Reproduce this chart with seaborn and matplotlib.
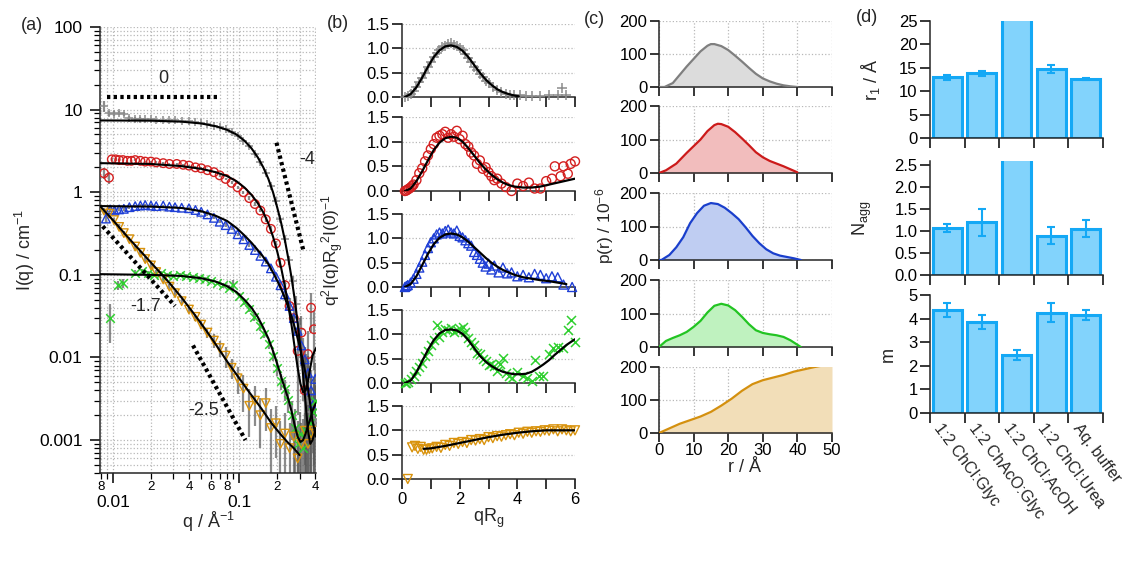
import numpy as np
import pandas as pd
import matplotlib
matplotlib.use("Agg")
import matplotlib.pyplot as plt
import seaborn as sns
from matplotlib.ticker import FixedLocator, FixedFormatter, NullFormatter, LogLocator

# ------------------------------------------------------------------ data (a)
q_grey = [0.0085, 0.0093, 0.0102, 0.0112, 0.0122, 0.0135, 0.015, 0.0165, 0.018, 0.02, 0.022, 0.025, 0.028, 0.031, 0.035,
          0.04, 0.045, 0.05, 0.056, 0.063, 0.07, 0.078, 0.087, 0.097, 0.108, 0.12, 0.133, 0.147, 0.162, 0.178, 0.195,
          0.212, 0.23, 0.248, 0.265, 0.282, 0.3, 0.318, 0.335, 0.352, 0.37, 0.388, 0.402]
I_grey = [11.0, 9.0, 8.9, 9.0, 8.9, 7.9, 7.8, 7.8, 7.6, 7.6, 7.5, 7.5, 7.4, 7.4, 7.3, 7.2, 7.0, 6.9, 6.7, 6.4, 6.1, 5.8,
          5.3, 4.8, 4.2, 3.6, 2.9, 2.3, 1.7, 1.2, 0.78, 0.47, 0.27, 0.15, 0.085, 0.045, 0.022, 0.01, 0.005, 0.003,
          0.0022, 0.0018, 0.0016]
e_grey = [1.6, 0.7, 0.6, 0.5, 0.5, 0.4, 0.3, 0.3, 0.3, 0.25, 0.25, 0.2, 0.2, 0.2, 0.2, 0.2, 0.2, 0.2, 0.2, 0.2, 0.2, 0.2,
          0.2, 0.2, 0.15, 0.15, 0.12, 0.1, 0.08, 0.07, 0.05, 0.035, 0.025, 0.018, 0.012, 0.01, 0.008, 0.007, 0.006,
          0.005, 0.004, 0.004, 0.003]
q_red = [0.0085, 0.0093, 0.0098, 0.0105, 0.0112, 0.012, 0.013, 0.014, 0.015, 0.0165, 0.018, 0.02, 0.022, 0.025, 0.028,
         0.032, 0.036, 0.04, 0.045, 0.05, 0.056, 0.063, 0.07, 0.078, 0.087, 0.097, 0.108, 0.12, 0.133, 0.147, 0.162,
         0.178, 0.195, 0.212, 0.23, 0.25, 0.27, 0.29, 0.31, 0.33, 0.35, 0.37, 0.39]
I_red = [1.7, 1.5, 2.5, 2.5, 2.45, 2.45, 2.4, 2.4, 2.45, 2.4, 2.35, 2.35, 2.3, 2.25, 2.2, 2.2, 2.15, 2.1, 2.0, 1.95, 1.85,
         1.75, 1.6, 1.45, 1.3, 1.15, 1.0, 0.85, 0.72, 0.6, 0.47, 0.36, 0.24, 0.14, 0.075, 0.042, 0.03, 0.012, 0.02,
         0.004, 0.011, 0.04, 0.022]
e_red = [0.25, 0.25, 0.1, 0.1, 0.08, 0.08, 0.08, 0.08, 0.07, 0.07, 0.07, 0.06, 0.06, 0.06, 0.06, 0.05, 0.05, 0.05, 0.05,
         0.05, 0.05, 0.05, 0.05, 0.05, 0.05, 0.04, 0.04, 0.04, 0.035, 0.03, 0.03, 0.025, 0.02, 0.015, 0.012, 0.01,
         0.012, 0.01, 0.012, 0.006, 0.01, 0.02, 0.015]
q_blue = [0.0088, 0.0095, 0.0103, 0.0112, 0.0122, 0.0135, 0.015, 0.0165, 0.018, 0.02, 0.022, 0.025, 0.028, 0.031, 0.035,
          0.04, 0.045, 0.05, 0.056, 0.063, 0.07, 0.078, 0.087, 0.097, 0.108, 0.12, 0.133, 0.147, 0.162, 0.178, 0.195,
          0.212, 0.23, 0.25, 0.27, 0.29, 0.31, 0.33, 0.35, 0.37, 0.39, 0.4]
I_blue = [0.48, 0.62, 0.6, 0.62, 0.63, 0.66, 0.68, 0.69, 0.7, 0.69, 0.68, 0.69, 0.67, 0.66, 0.65, 0.64, 0.61, 0.58, 0.54,
          0.49, 0.44, 0.4, 0.36, 0.31, 0.27, 0.23, 0.2, 0.17, 0.145, 0.12, 0.095, 0.075, 0.058, 0.042, 0.03, 0.021,
          0.014, 0.0095, 0.0065, 0.004, 0.0028, 0.0055]
e_blue = [0.05, 0.04, 0.04, 0.03, 0.03, 0.03, 0.03, 0.03, 0.03, 0.03, 0.02, 0.02, 0.02, 0.02, 0.02, 0.02, 0.02, 0.02,
          0.02, 0.02, 0.02, 0.02, 0.015, 0.015, 0.015, 0.012, 0.012, 0.01, 0.01, 0.008, 0.008, 0.006, 0.006, 0.005,
          0.005, 0.005, 0.004, 0.004, 0.004, 0.003, 0.003, 0.003]
q_green = [0.0095, 0.011, 0.012, 0.015, 0.017, 0.019, 0.021, 0.024, 0.027, 0.03, 0.034, 0.038, 0.043, 0.048, 0.054,
           0.06, 0.067, 0.075, 0.083, 0.09, 0.1, 0.11, 0.12, 0.132, 0.145, 0.158, 0.172, 0.186, 0.2, 0.215, 0.23,
           0.245, 0.26, 0.275, 0.29, 0.305, 0.32, 0.34, 0.36, 0.38, 0.4]
I_green = [0.03, 0.075, 0.08, 0.105, 0.11, 0.105, 0.1, 0.105, 0.1, 0.098, 0.1, 0.097, 0.095, 0.092, 0.09, 0.085, 0.08,
           0.075, 0.07, 0.075, 0.056, 0.047, 0.039, 0.031, 0.024, 0.019, 0.0145, 0.0105, 0.0075, 0.0052, 0.0042,
           0.0031, 0.002, 0.0014, 0.0009, 0.0012, 0.0008, 0.0013, 0.0016, 0.0022, 0.003]
e_green = [0.015, 0.01, 0.01, 0.008, 0.008, 0.006, 0.006, 0.006, 0.005, 0.005, 0.005, 0.005, 0.005, 0.005, 0.005,
           0.005, 0.005, 0.005, 0.005, 0.012, 0.004, 0.004, 0.003, 0.003, 0.003, 0.002, 0.002, 0.0015, 0.0015,
           0.0012, 0.0012, 0.001, 0.001, 0.001, 0.0008, 0.001, 0.001, 0.0012, 0.0012, 0.0015, 0.0015]
q_orange = [0.0085, 0.0093, 0.0102, 0.0112, 0.0122, 0.0135, 0.015, 0.0165, 0.018, 0.02, 0.022, 0.025, 0.028, 0.031,
            0.035, 0.04, 0.045, 0.05, 0.056, 0.063, 0.07, 0.078, 0.087, 0.097, 0.108, 0.12, 0.133, 0.147, 0.162,
            0.178, 0.195, 0.212, 0.23, 0.25, 0.27, 0.29, 0.31, 0.33, 0.35, 0.37, 0.39]
I_orange = [0.6, 0.55, 0.46, 0.38, 0.32, 0.27, 0.22, 0.185, 0.155, 0.13, 0.108, 0.088, 0.072, 0.06, 0.048, 0.038,
            0.031, 0.025, 0.02, 0.016, 0.013, 0.0105, 0.0075, 0.0056, 0.0042, 0.0026, 0.003, 0.002, 0.0028, 0.0014,
            0.0016, 0.0009, 0.0012, 0.0008, 0.0011, 0.0006, 0.0009, 0.0013, 0.0009, 0.0012, 0.0013]
e_orange = [0.05, 0.04, 0.03, 0.03, 0.02, 0.02, 0.015, 0.012, 0.01, 0.008, 0.007, 0.006, 0.005, 0.004, 0.004, 0.003,
            0.003, 0.003, 0.003, 0.003, 0.003, 0.003, 0.002, 0.002, 0.002, 0.0015, 0.0015, 0.0012, 0.0015, 0.001,
            0.001, 0.0008, 0.0009, 0.0008, 0.0008, 0.0006, 0.0007, 0.0008, 0.0007, 0.0008, 0.0008]

qf_std = [0.0079, 0.02, 0.035, 0.05, 0.065, 0.08, 0.095, 0.11, 0.125, 0.14, 0.155, 0.17, 0.185, 0.2, 0.215, 0.23,
          0.245, 0.26, 0.275, 0.29, 0.305, 0.32, 0.335, 0.35, 0.365, 0.38, 0.405]
If_grey = [7.4, 7.35, 7.15, 6.8, 6.3, 5.7, 5.0, 4.2, 3.4, 2.65, 2.0, 1.45, 1.0, 0.65, 0.42, 0.26, 0.155, 0.09, 0.05,
           0.026, 0.013, 0.0062, 0.0028, 0.0013, 0.0009, 0.001, 0.0014]
If_red = [2.25, 2.2, 2.07, 1.92, 1.75, 1.57, 1.36, 1.14, 0.93, 0.74, 0.57, 0.42, 0.29, 0.19, 0.12, 0.072, 0.042, 0.024,
          0.013, 0.0075, 0.0048, 0.0038, 0.004, 0.0052, 0.0075, 0.0105, 0.013]
If_blue = [0.68, 0.67, 0.645, 0.59, 0.52, 0.45, 0.37, 0.3, 0.245, 0.2, 0.165, 0.135, 0.107, 0.085, 0.067, 0.052, 0.04,
           0.031, 0.023, 0.017, 0.0125, 0.009, 0.0063, 0.0042, 0.0027, 0.0017, 0.0011]
If_green = [0.102, 0.1, 0.097, 0.091, 0.083, 0.073, 0.062, 0.05, 0.04, 0.031, 0.023, 0.017, 0.012, 0.0083, 0.0058,
            0.0042, 0.0031, 0.0022, 0.0015, 0.0011, 0.00095, 0.001, 0.0012, 0.0015, 0.0018, 0.0023, 0.0028]
qf_orange = [0.0079, 0.01, 0.013, 0.017, 0.022, 0.028, 0.035, 0.045, 0.055, 0.065, 0.08, 0.1, 0.12, 0.15, 0.18, 0.21,
             0.24, 0.27, 0.3]
If_orange = [0.68, 0.46, 0.29, 0.185, 0.12, 0.08, 0.053, 0.032, 0.021, 0.0145, 0.009, 0.0056, 0.0038, 0.0024, 0.0016,
             0.0012, 0.00095, 0.0008, 0.00066]

slope_lines = {"0": ([0.009, 0.0707], [14.1, 14.1]), "-4": ([0.197, 0.323], [3.98, 0.193]),
               "-1.7": ([0.0083, 0.031], [0.387, 0.042]), "-2.5": ([0.043, 0.112], [0.014, 0.001])}
slope_text = {"0": (0.025, 24.0), "-4": (0.345, 2.5), "-1.7": (0.018, 0.041), "-2.5": (0.052, 0.0023)}

# ------------------------------------------------------------------ data (b)
xg_b = [0.1, 0.2, 0.3, 0.4, 0.5, 0.6, 0.7, 0.8, 0.9, 1.0, 1.1, 1.2, 1.3, 1.4, 1.5, 1.6, 1.7, 1.8, 1.9, 2.0, 2.1, 2.2,
        2.3, 2.4, 2.5, 2.6, 2.7, 2.8, 2.9, 3.0, 3.15, 3.3, 3.45, 3.6, 3.75, 3.9, 4.1, 4.3, 4.5, 4.8, 5.1, 5.4, 5.55, 5.7]
yg_b = [0.0, 0.03, 0.06, 0.12, 0.2, 0.3, 0.4, 0.5, 0.62, 0.72, 0.82, 0.9, 0.97, 1.02, 1.05, 1.08, 1.1, 1.06, 1.04, 1.0,
        0.96, 0.88, 0.8, 0.72, 0.62, 0.55, 0.47, 0.42, 0.33, 0.28, 0.2, 0.14, 0.1, 0.07, 0.05, 0.04, 0.05, 0.02, 0.03,
        0.02, 0.04, 0.05, 0.18, 0.05]
xgf_b = [0.1, 0.3, 0.5, 0.7, 0.9, 1.1, 1.3, 1.5, 1.7, 1.9, 2.1, 2.3, 2.5, 2.7, 2.9, 3.1, 3.3, 3.5, 3.7, 3.9, 4.05]
ygf_b = [0.0, 0.06, 0.2, 0.4, 0.62, 0.82, 0.96, 1.04, 1.06, 1.03, 0.95, 0.82, 0.66, 0.5, 0.36, 0.25, 0.16, 0.1, 0.06,
         0.03, 0.015]
xr_b = [0.1, 0.15, 0.2, 0.25, 0.3, 0.35, 0.4, 0.5, 0.6, 0.7, 0.8, 0.9, 1.0, 1.1, 1.2, 1.3, 1.4, 1.5, 1.6, 1.7, 1.8,
        1.9, 2.0, 2.1, 2.2, 2.3, 2.4, 2.5, 2.6, 2.7, 2.8, 2.9, 3.0, 3.1, 3.2, 3.3, 3.45, 3.6, 3.8, 4.0, 4.2, 4.4, 4.6,
        4.8, 5.0, 5.2, 5.3, 5.5, 5.6, 5.75, 5.85, 6.0]
yr_b = [0.0, 0.01, 0.03, 0.05, 0.07, 0.1, 0.13, 0.22, 0.36, 0.46, 0.6, 0.72, 0.85, 0.95, 1.08, 1.12, 1.15, 1.2, 1.08,
        1.15, 1.1, 1.22, 1.05, 1.12, 0.95, 0.9, 0.78, 0.72, 0.55, 0.62, 0.45, 0.48, 0.38, 0.3, 0.22, 0.25, 0.15, 0.08,
        0.0, 0.15, 0.1, 0.17, 0.05, 0.05, 0.2, 0.25, 0.5, 0.3, 0.5, 0.35, 0.55, 0.6]
xrf_b = [0.1, 0.3, 0.5, 0.7, 0.9, 1.1, 1.3, 1.5, 1.7, 1.9, 2.1, 2.3, 2.5, 2.7, 2.9, 3.1, 3.3, 3.5, 3.7, 3.9, 4.2, 4.5,
         4.8, 5.1, 5.4, 5.7, 6.0]
yrf_b = [0.0, 0.05, 0.2, 0.4, 0.62, 0.83, 0.98, 1.07, 1.1, 1.08, 1.0, 0.87, 0.72, 0.57, 0.44, 0.33, 0.24, 0.17, 0.12,
         0.09, 0.07, 0.07, 0.09, 0.13, 0.17, 0.21, 0.25]
xb_b = [0.1, 0.15, 0.2, 0.3, 0.4, 0.5, 0.6, 0.7, 0.8, 0.9, 1.0, 1.1, 1.2, 1.3, 1.4, 1.5, 1.6, 1.7, 1.8, 1.9, 2.0, 2.1,
        2.2, 2.3, 2.4, 2.5, 2.6, 2.7, 2.8, 2.9, 3.0, 3.1, 3.2, 3.35, 3.5, 3.65, 3.8, 4.0, 4.2, 4.4, 4.6, 4.8, 5.0, 5.2,
        5.4, 5.6, 5.9]
yb_b = [0.0, 0.02, 0.04, 0.09, 0.17, 0.27, 0.4, 0.52, 0.66, 0.8, 0.92, 1.0, 1.08, 1.12, 1.1, 1.15, 1.18, 1.12, 1.1,
        1.16, 1.05, 1.02, 0.96, 0.9, 0.85, 0.72, 0.66, 0.58, 0.5, 0.42, 0.48, 0.36, 0.44, 0.3, 0.4, 0.28, 0.3, 0.22,
        0.25, 0.2, 0.27, 0.25, 0.18, 0.22, 0.2, 0.05, 0.0]
xbf_b = [0.1, 0.3, 0.5, 0.7, 0.9, 1.1, 1.3, 1.5, 1.7, 1.9, 2.1, 2.3, 2.5, 2.7, 2.9, 3.1, 3.3, 3.5, 3.7, 3.9, 4.2, 4.5,
         4.8, 5.1, 5.4, 5.7]
ybf_b = [0.0, 0.06, 0.22, 0.45, 0.68, 0.88, 1.01, 1.08, 1.1, 1.08, 1.02, 0.93, 0.82, 0.71, 0.6, 0.5, 0.42, 0.35, 0.3,
         0.25, 0.2, 0.17, 0.14, 0.12, 0.09, 0.06]
xx_b = [0.1, 0.15, 0.2, 0.3, 0.4, 0.5, 0.6, 0.7, 0.8, 0.9, 1.0, 1.1, 1.2, 1.3, 1.4, 1.5, 1.6, 1.7, 1.8, 1.9, 2.0, 2.1,
        2.2, 2.3, 2.4, 2.5, 2.6, 2.7, 2.8, 2.9, 3.0, 3.1, 3.2, 3.3, 3.4, 3.5, 3.6, 3.7, 3.8, 4.0, 4.2, 4.35, 4.5, 4.6,
        4.75, 4.9, 5.1, 5.25, 5.4, 5.6, 5.75, 5.85, 6.0]
yx_b = [0.0, 0.01, 0.03, 0.08, 0.15, 0.25, 0.33, 0.42, 0.55, 0.65, 0.78, 0.88, 1.2, 0.95, 1.05, 1.1, 1.08, 1.12, 1.05,
        1.08, 1.1, 1.15, 1.05, 0.92, 0.85, 0.78, 0.62, 0.6, 0.5, 0.45, 0.38, 0.4, 0.35, 0.25, 0.4, 0.52, 0.2, 0.15,
        0.1, 0.22, 0.15, 0.1, 0.05, 0.48, 0.15, 0.15, 0.6, 0.72, 0.75, 0.72, 1.08, 1.3, 0.85]
xxf_b = [0.1, 0.3, 0.5, 0.7, 0.9, 1.1, 1.3, 1.5, 1.7, 1.9, 2.1, 2.3, 2.5, 2.7, 2.9, 3.1, 3.3, 3.5, 3.7, 3.9, 4.1, 4.3,
         4.5, 4.7, 4.9, 5.1, 5.3, 5.5, 5.7, 5.9, 6.0]
yxf_b = [0.0, 0.05, 0.22, 0.45, 0.68, 0.88, 1.02, 1.09, 1.1, 1.08, 1.01, 0.88, 0.72, 0.56, 0.44, 0.35, 0.28, 0.23, 0.2,
         0.18, 0.18, 0.19, 0.23, 0.3, 0.38, 0.47, 0.58, 0.68, 0.78, 0.86, 0.9]
xo_b = [0.2, 0.35, 0.45, 0.55, 0.65, 0.75, 0.85, 0.95, 1.05, 1.2, 1.35, 1.5, 1.65, 1.8, 1.95, 2.1, 2.25, 2.4, 2.55,
        2.7, 2.85, 3.0, 3.15, 3.3, 3.45, 3.6, 3.75, 3.9, 4.05, 4.2, 4.35, 4.5, 4.65, 4.8, 4.95, 5.1, 5.25, 5.4, 5.55,
        5.7, 5.85, 6.0]
yo_b = [0.0, 0.65, 0.68, 0.62, 0.66, 0.6, 0.6, 0.62, 0.63, 0.66, 0.64, 0.7, 0.68, 0.74, 0.72, 0.76, 0.74, 0.8, 0.79,
        0.82, 0.8, 0.86, 0.84, 0.88, 0.87, 0.9, 0.92, 0.9, 0.95, 0.93, 0.97, 0.95, 0.98, 0.97, 1.0, 0.99, 1.02, 0.98,
        1.02, 1.0, 0.98, 1.0]
xof_b = [0.75, 1.0, 1.5, 2.0, 2.5, 3.0, 3.5, 4.0, 4.5, 5.0, 5.5, 6.0]
yof_b = [0.62, 0.63, 0.68, 0.74, 0.8, 0.86, 0.91, 0.95, 0.98, 1.0, 1.0, 1.0]

# ------------------------------------------------------------------ data (c)
r_grey = [0, 1.6, 4, 6, 8, 10, 12, 14, 15, 16, 18, 20, 22, 24, 26, 28, 30, 32, 34, 36, 38, 40]
p_grey = [0, 0, 12, 37, 62, 85, 108, 125, 130, 130, 124, 112, 95, 77, 58, 40, 26, 17, 10, 5, 2, 0]
r_red = [0, 2, 5, 8, 10, 12, 14, 16, 17, 18, 20, 22, 24, 26, 28, 30, 32, 34, 36, 38, 40]
p_red = [0, 8, 28, 60, 80, 100, 125, 143, 147, 146, 138, 122, 103, 83, 62, 47, 36, 28, 20, 11, 2]
r_blue = [0, 0.7, 3, 5, 7, 9, 11, 13, 15, 17, 19, 21, 23, 25, 27, 29, 31, 33, 35, 37, 39, 41]
p_blue = [0, 0, 15, 38, 68, 110, 140, 162, 170, 167, 156, 140, 122, 98, 72, 50, 32, 20, 13, 9, 5, 0]
r_green = [0, 2, 4, 6, 8, 10, 12, 14, 16, 18, 20, 22, 24, 26, 28, 30, 32, 34, 36, 38, 41]
p_green = [0, 18, 27, 35, 45, 60, 78, 103, 123, 129, 124, 110, 90, 68, 50, 42, 38, 35, 30, 20, 0]
r_orange = [0, 3, 6, 9, 12, 15, 18, 21, 24, 27, 30, 33, 36, 39, 42, 45, 48, 50]
p_orange = [0, 14, 28, 39, 50, 64, 83, 104, 128, 148, 160, 168, 176, 186, 193, 200, 206, 210]

# ------------------------------------------------------------------ data (d)
solvents = ["1:2 ChCl:Glyc", "1:2 ChAcO:Glyc", "1:2 ChCl:AcOH", "1:2 ChCl:Urea", "Aq. buffer"]
r1_val = [13.0, 13.8, 32.0, 14.7, 12.6]
r1_err = [0.5, 0.45, 0.0, 0.8, 0.2]
nagg_val = [1.07, 1.2, 4.0, 0.9, 1.06]
nagg_err = [0.1, 0.3, 0.0, 0.2, 0.2]
m_val = [4.35, 3.85, 2.45, 4.25, 4.15]
m_err = [0.3, 0.3, 0.2, 0.4, 0.2]

# ------------------------------------------------------------------ style
sns.set_style("ticks")
plt.rcParams['font.family'] = ['Liberation Sans', 'DejaVu Sans']
plt.rcParams['mathtext.fontset'] = 'custom'
plt.rcParams['mathtext.rm'] = 'Liberation Sans'
plt.rcParams['mathtext.it'] = 'Liberation Sans'
plt.rcParams['mathtext.default'] = 'regular'
plt.rcParams['axes.linewidth'] = 1.1
plt.rcParams['xtick.major.width'] = 1.1
plt.rcParams['ytick.major.width'] = 1.1
plt.rcParams['xtick.minor.width'] = 0.9
plt.rcParams['ytick.minor.width'] = 0.9
plt.rcParams['xtick.color'] = 'black'
plt.rcParams['ytick.color'] = 'black'

C_GREY, C_RED, C_BLUE, C_GREEN, C_ORANGE = '#8c8c8c', '#d42020', '#1f3fd6', '#2fcf2f', '#d9930d'
L_COLS = ['#7f7f7f', '#cc1a1a', '#1a3fcc', '#22c422', '#d4900f']
F_COLS = ['#dcdcdc', '#f2bdbd', '#bfcdf2', '#bff2bf', '#f2deb8']
GRID = dict(ls=':', color='#b8b8b8', lw=0.9)
BAR_FILL, BAR_EDGE = '#82d3fc', '#14a8f5'

W, H = 1127, 578
fig = plt.figure(figsize=(W / 100, H / 100), dpi=100)


def rect(l, t, r, b):
    return [l / W, 1 - b / H, (r - l) / W, (b - t) / H]


def ftext(x, y, s, **kw):
    fig.text(x / W, 1 - y / H, s, ha='center', va='center', **kw)


TS = 12  # tick size for b-d

# ================================================================== panel (a)
ax = fig.add_axes(rect(100, 27, 316, 473))
ax.set_xscale('log')
ax.set_yscale('log')
ax.set_xlim(0.0079, 0.405)
ax.set_ylim(4e-4, 100)

series_a = [
    (q_grey, I_grey, e_grey, '+', C_GREY, qf_std, If_grey),
    (q_red, I_red, e_red, 'o', C_RED, qf_std, If_red),
    (q_blue, I_blue, e_blue, '^', C_BLUE, qf_std, If_blue),
    (q_green, I_green, e_green, 'x', C_GREEN, qf_std, If_green),
    (q_orange, I_orange, e_orange, 'v', C_ORANGE, qf_orange, If_orange),
]
for q, I, e, mk, col, qf, If in series_a:
    ax.errorbar(q, I, yerr=e, fmt='none', ecolor='#5a5a5a', elinewidth=1.6, alpha=0.7, zorder=1)
for q, I, e, mk, col, qf, If in series_a:
    if mk in ('+', 'x'):
        sns.scatterplot(x=q, y=I, ax=ax, marker=mk, s=38, color=col, linewidth=1.1, zorder=3)
    else:
        sns.scatterplot(x=q, y=I, ax=ax, marker=mk, s=38, facecolors='none', edgecolors=col, linewidth=1.0,
                        zorder=3)
for q, I, e, mk, col, qf, If in series_a:
    sns.lineplot(x=qf, y=If, ax=ax, color='black', lw=1.5, zorder=4, sort=False)

for key, (xs, ys) in slope_lines.items():
    ax.plot(xs, ys, color='black', lw=3, ls=(0, (0.8, 0.8)), solid_capstyle='butt', zorder=5)
for key, (xt, yt) in slope_text.items():
    ax.text(xt, yt, key, ha='center', va='center', fontsize=13)

ax.xaxis.set_major_locator(FixedLocator([0.01, 0.1]))
ax.xaxis.set_major_formatter(FixedFormatter(['0.01', '0.1']))
minor_q = [0.008, 0.009, 0.02, 0.03, 0.04, 0.05, 0.06, 0.07, 0.08, 0.09, 0.2, 0.3, 0.4]
minor_lab = ['8', '', '2', '', '4', '', '6', '', '8', '', '2', '', '4']
ax.xaxis.set_minor_locator(FixedLocator(minor_q))
ax.xaxis.set_minor_formatter(FixedFormatter(minor_lab))
ax.set_yticks([0.001, 0.01, 0.1, 1, 10, 100], ['0.001', '0.01', '0.1', '1', '10', '100'])
ax.yaxis.set_minor_locator(LogLocator(base=10, subs=np.arange(2, 10), numticks=20))
ax.yaxis.set_minor_formatter(NullFormatter())
ax.tick_params(axis='both', which='major', direction='out', length=7.5, labelsize=12.5)
ax.tick_params(axis='y', which='major', pad=5)
ax.tick_params(axis='both', which='minor', direction='out', length=4.5)
ax.tick_params(axis='x', which='major', pad=8)
ax.tick_params(axis='x', which='minor', labelsize=9.5, pad=1.5)
ax.grid(True, which='both', **GRID)
sns.despine(ax=ax)

ftext(25, 250, 'I(q) / cm$^{-1}$', rotation=90, fontsize=13)
ftext(208, 522, 'q / Å$^{-1}$', fontsize=13)
ftext(32, 25, '(a)', fontsize=13)

# ================================================================== panel (b)
b_rows = [(24, 97), (117, 191), (214, 287), (310, 383), (406, 479)]
series_b = [
    (xg_b, yg_b, '+', C_GREY, xgf_b, ygf_b),
    (xr_b, yr_b, 'o', C_RED, xrf_b, yrf_b),
    (xb_b, yb_b, '^', C_BLUE, xbf_b, ybf_b),
    (xx_b, yx_b, 'x', C_GREEN, xxf_b, yxf_b),
    (xo_b, yo_b, 'v', C_ORANGE, xof_b, yof_b),
]
for i, ((t, b), (x, y, mk, col, xf, yf)) in enumerate(zip(b_rows, series_b)):
    ax = fig.add_axes(rect(402, t, 575, b))
    ax.set_xlim(0, 6)
    ax.set_ylim(0, 1.5)
    if mk in ('+', 'x'):
        sns.scatterplot(x=x, y=y, ax=ax, marker=mk, s=42, color=col, linewidth=1.1, zorder=3, clip_on=False)
    else:
        sns.scatterplot(x=x, y=y, ax=ax, marker=mk, s=42, facecolors='none', edgecolors=col, linewidth=1.0,
                        zorder=3, clip_on=False)
    sns.lineplot(x=xf, y=yf, ax=ax, color='black', lw=1.6, zorder=4, sort=False)
    ax.set_yticks([0, 0.5, 1.0, 1.5], ['0.0', '0.5', '1.0', '1.5'])
    if i == 4:
        ax.set_xticks(range(7), ['0', '', '2', '', '4', '', '6'])
    else:
        ax.set_xticks(range(7), [''] * 7)
    ax.tick_params(axis='both', direction='out', length=7, labelsize=TS, pad=2)
    ax.grid(True, axis='y', **GRID)
    ax.set_xlabel('')
    ax.set_ylabel('')
    sns.despine(ax=ax)

ftext(333, 250, 'q$^2$I(q)R$_g$$^2$I(0)$^{-1}$', rotation=90, fontsize=12.5)
ftext(489, 518, 'qR$_g$', fontsize=13)
ftext(338, 24, '(b)', fontsize=13)

# ================================================================== panel (c)
c_rows = [(21, 87), (106, 173), (193, 260), (280, 347), (367, 433)]
series_c = [(r_grey, p_grey), (r_red, p_red), (r_blue, p_blue), (r_green, p_green), (r_orange, p_orange)]
for i, ((t, b), (r, p)) in enumerate(zip(c_rows, series_c)):
    ax = fig.add_axes(rect(659, t, 832, b))
    ax.set_xlim(0, 50)
    ax.set_ylim(0, 200)
    ax.fill_between(r, p, color=F_COLS[i], lw=0, zorder=1)
    sns.lineplot(x=r, y=p, ax=ax, color=L_COLS[i], lw=1.6, zorder=3, sort=False)
    ax.set_yticks([0, 100, 200])
    if i == 4:
        ax.set_xticks(range(0, 51, 10))
    else:
        ax.set_xticks(range(0, 51, 10), [''] * 6)
    ax.tick_params(axis='both', direction='out', length=6.5, labelsize=TS, pad=2)
    ax.tick_params(axis='x', pad=0.5)
    ax.grid(True, **GRID)
    ax.set_axisbelow(True)
    ax.set_xlabel('')
    ax.set_ylabel('')
    sns.despine(ax=ax)

ftext(605, 226, 'p(r) / 10$^{-6}$', rotation=90, fontsize=12.5)
ftext(745, 468, 'r / Å', fontsize=13)
ftext(594, 20, '(c)', fontsize=13)

# ================================================================== panel (d)
d_rows = [(21, 138), (161, 275), (295, 413)]
series_d = [(r1_val, r1_err, (0, 25), [0, 5, 10, 15, 20, 25], None),
            (nagg_val, nagg_err, (0, 2.6), [0, 0.5, 1.0, 1.5, 2.0, 2.5], ['0.0', '0.5', '1.0', '1.5', '2.0', '2.5']),
            (m_val, m_err, (0, 5), [0, 1, 2, 3, 4, 5], None)]
d_labels = [('r$_1$ / Å', 870, 80), ('N$_{agg}$', 862, 218), ('m', 888, 354)]
for i, ((t, b), (vals, errs, ylim, yt, ytl)) in enumerate(zip(d_rows, series_d)):
    ax = fig.add_axes(rect(930, t, 1103, b))
    df = pd.DataFrame({'solvent': solvents, 'val': vals})
    sns.barplot(data=df, x='solvent', y='val', ax=ax, color=BAR_FILL, edgecolor=BAR_EDGE, linewidth=2.2,
                width=0.84, saturation=1, errorbar=None)
    ax.errorbar(range(len(vals)), vals, yerr=errs, fmt='none', ecolor=BAR_EDGE, elinewidth=1.5, capsize=3,
                capthick=1.5, zorder=5)
    ax.set_xlim(-0.5, 4.5)
    ax.set_ylim(*ylim)
    if ytl is None:
        ax.set_yticks(yt)
    else:
        ax.set_yticks(yt, ytl)
    ax.set_xticks([-0.5, 0.5, 1.5, 2.5, 3.5, 4.5], [''] * 6)
    ax.tick_params(axis='both', direction='out', length=7, labelsize=TS, pad=2)
    ax.set_xlabel('')
    ax.set_ylabel('')
    sns.despine(ax=ax)
    lab, lx, ly = d_labels[i]
    ftext(lx, ly, lab, rotation=90, fontsize=13)
    if i == 2:
        for k, s in enumerate(solvents):
            ax.text(k - 0.12, -0.07, s, transform=ax.get_xaxis_transform(), rotation=-53,
                    rotation_mode='anchor', ha='left', va='top', fontsize=11.5)

ftext(867, 18, '(d)', fontsize=13)

fig.savefig('out.png', dpi=100)
